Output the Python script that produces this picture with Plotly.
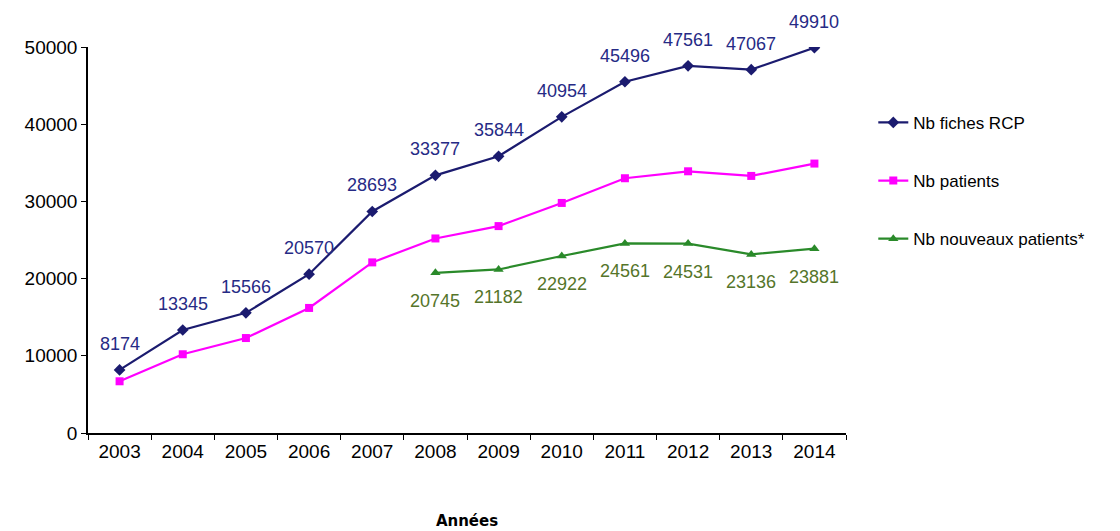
import plotly.graph_objects as go

years = ["2003", "2004", "2005", "2006", "2007", "2008", "2009", "2010", "2011", "2012", "2013", "2014"]
fiches_rcp = [8174, 13345, 15566, 20570, 28693, 33377, 35844, 40954, 45496, 47561, 47067, 49910]
patients = [6700, 10200, 12300, 16200, 22100, 25200, 26800, 29800, 33000, 33900, 33300, 34900]
years_new = ["2008", "2009", "2010", "2011", "2012", "2013", "2014"]
nouveaux = [20745, 21182, 22922, 24561, 24531, 23136, 23881]

FONT = "Liberation Sans, Arial, sans-serif"
NAVY = "#1b1b6f"
NAVY_TXT = "#262a85"
MAGENTA = "#ff00ff"
GREEN = "#2a8a2a"
GREEN_TXT = "#55752a"

fig = go.Figure()
fig.add_trace(go.Scatter(x=years, y=fiches_rcp, mode="lines+markers", name="Nb fiches RCP",
                         legendgroup="a",
                         line=dict(color=NAVY, width=2.2),
                         marker=dict(symbol="diamond", size=9, color=NAVY)))
fig.add_trace(go.Scatter(x=years, y=patients, mode="lines+markers", name="Nb patients",
                         legendgroup="b",
                         line=dict(color=MAGENTA, width=2.2),
                         marker=dict(symbol="square", size=8, color=MAGENTA)))
fig.add_trace(go.Scatter(x=years_new, y=nouveaux, mode="lines+markers", name="Nb nouveaux patients*",
                         legendgroup="c",
                         line=dict(color=GREEN, width=2.2),
                         marker=dict(symbol="triangle-up", size=9, color=GREEN)))

annotations = []
for x, v in zip(years, fiches_rcp):
    annotations.append(dict(x=years.index(x), y=v, xref="x", yref="y", text=str(v),
                            showarrow=False, yshift=26,
                            font=dict(family=FONT, size=18, color=NAVY_TXT)))
for x, v in zip(years_new, nouveaux):
    annotations.append(dict(x=years.index(x), y=v, xref="x", yref="y", text=str(v),
                            showarrow=False, yshift=-28,
                            font=dict(family=FONT, size=18, color=GREEN_TXT)))

fig.update_layout(
    width=1120, height=531,
    margin=dict(l=80, r=282, t=39, b=106),
    paper_bgcolor="white", plot_bgcolor="white",
    font=dict(family=FONT, size=18, color="black"),
    annotations=annotations,
    showlegend=True,
    legend=dict(x=1.036, xanchor="left", y=0.85, yanchor="top",
                font=dict(family=FONT, size=17, color="black"),
                tracegroupgap=33, bgcolor="rgba(0,0,0,0)"),
    xaxis=dict(type="category", range=[-0.5, 11.5], showline=True, linecolor="black", linewidth=1.5,
               ticks="outside", tickson="boundaries", ticklen=5, tickcolor="black",
               showgrid=False, zeroline=False,
               tickfont=dict(family=FONT, size=19),
               title=dict(text="<b>Années</b>", font=dict(family="DejaVu Sans", size=15), standoff=55)),
    yaxis=dict(range=[0, 50000], tickvals=[0, 10000, 20000, 30000, 40000, 50000],
               tickformat="d", showline=True, linecolor="black", linewidth=1.5,
               ticks="outside", ticklen=5, tickcolor="black",
               showgrid=False, zeroline=False,
               tickfont=dict(family=FONT, size=19)),
)

fig.write_html("out.html")
